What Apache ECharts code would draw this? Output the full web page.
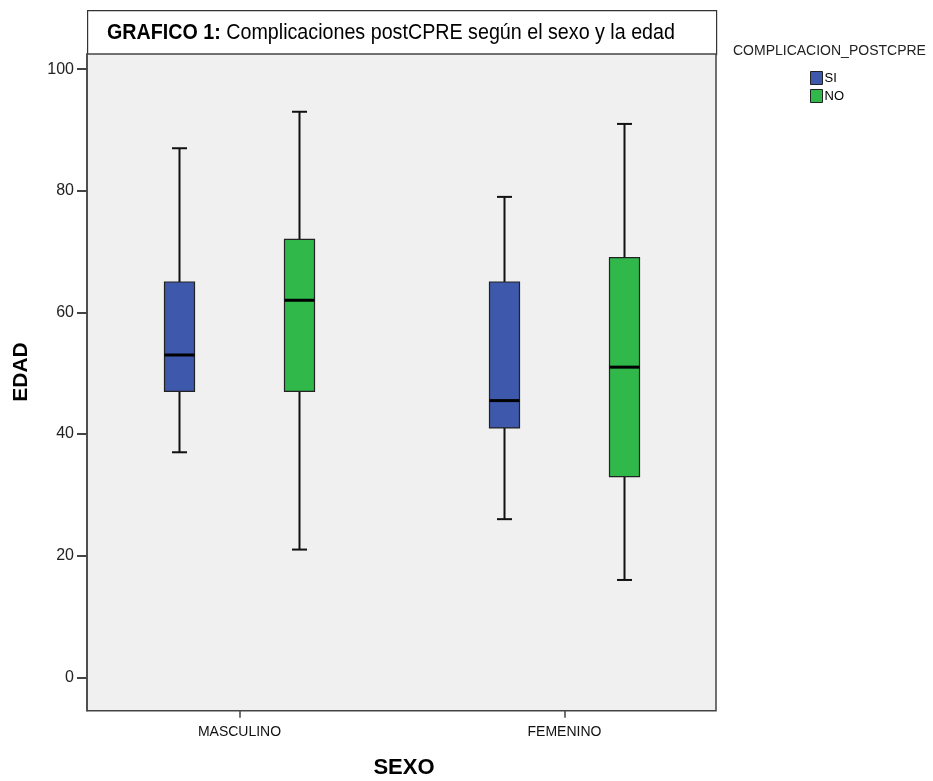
<!DOCTYPE html>
<html>
<head>
<meta charset="utf-8">
<title>Complicaciones postCPRE según el sexo y la edad</title>
<script src="https://cdn.jsdelivr.net/npm/echarts@6/dist/echarts.min.js"></script>
<style>
  html, body { margin: 0; padding: 0; background: #ffffff; }
  #chart { width: 933px; height: 781px; }
</style>
</head>
<body>
<div id="chart"></div>
<script>
// Categorías del eje X
const sexo = ['MASCULINO', 'FEMENINO'];

// Resumen de cinco números de EDAD: [mínimo, Q1, mediana, Q3, máximo] por sexo
const siMin = [37, 26];
const siQ1  = [47, 41];
const siMed = [53, 45.5];
const siQ3  = [65, 65];
const siMax = [87, 79];

const noMin = [21, 16];
const noQ1  = [47, 33];
const noMed = [62, 51];
const noQ3  = [72, 69];
const noMax = [93, 91];

const yTicks = [0, 20, 40, 60, 80, 100];

const SANS = '"Liberation Sans", Arial, sans-serif';

const BOX_W = 30;     // ancho de cada caja (px)
const CAP_W = 15;     // ancho de los topes de los bigotes (px)
const SHIFT = 60;     // desplazamiento de cada grupo respecto al centro de la categoría (px)

function buildRows(mn, q1, md, q3, mx) {
  return sexo.map((_, i) => [i, mn[i], q1[i], md[i], q3[i], mx[i]]);
}

function boxRenderer(offset) {
  return function (params, api) {
    const c = api.value(0);
    const pMin = api.coord([c, api.value(1)]);
    const pQ1  = api.coord([c, api.value(2)]);
    const pMed = api.coord([c, api.value(3)]);
    const pQ3  = api.coord([c, api.value(4)]);
    const pMax = api.coord([c, api.value(5)]);
    const x = pMin[0] + offset;
    const fill = api.visual('color');
    const whisker = { stroke: '#111111', lineWidth: 2 };
    return {
      type: 'group',
      children: [
        { type: 'line', shape: { x1: x, y1: pMax[1], x2: x, y2: pQ3[1] }, style: whisker },
        { type: 'line', shape: { x1: x, y1: pQ1[1], x2: x, y2: pMin[1] }, style: whisker },
        { type: 'line', shape: { x1: x - CAP_W / 2, y1: pMax[1], x2: x + CAP_W / 2, y2: pMax[1] }, style: whisker },
        { type: 'line', shape: { x1: x - CAP_W / 2, y1: pMin[1], x2: x + CAP_W / 2, y2: pMin[1] }, style: whisker },
        { type: 'rect',
          shape: { x: x - BOX_W / 2, y: pQ3[1], width: BOX_W, height: pQ1[1] - pQ3[1] },
          style: { fill: fill, stroke: '#222222', lineWidth: 1.2 } },
        { type: 'line', shape: { x1: x - BOX_W / 2, y1: pMed[1], x2: x + BOX_W / 2, y2: pMed[1] },
          style: { stroke: '#000000', lineWidth: 3 } }
      ]
    };
  };
}

const chart = echarts.init(document.getElementById('chart'), null, { renderer: 'canvas' });

const PLOT_TOP = 54;
const PLOT_H = 656.7;

chart.setOption({
  animation: false,
  backgroundColor: '#ffffff',
  graphic: [
    {
      type: 'rect', left: 87, top: 10, z: -1,
      shape: { width: 629, height: 44 },
      style: { fill: '#ffffff', stroke: '#333333', lineWidth: 1.2 }
    },
    {
      // título, condensado horizontalmente
      type: 'text', x: 107, y: 33, scaleX: 0.895,
      style: {
        text: '{b|GRAFICO 1:} Complicaciones postCPRE según el sexo y la edad',
        font: '22px ' + SANS, fill: '#000', verticalAlign: 'middle',
        rich: { b: { fontFamily: SANS, fontWeight: 'bold', fontSize: 22, fill: '#000' } }
      }
    },
    {
      type: 'text', x: 733, y: 51,
      style: { text: 'COMPLICACION_POSTCPRE', font: '14px ' + SANS, fill: '#222', verticalAlign: 'middle' }
    },
    {
      type: 'text', x: 21, y: 372, rotation: Math.PI / 2,
      style: { text: 'EDAD', font: 'bold 21px ' + SANS, fill: '#000', align: 'center', verticalAlign: 'middle' }
    },
    {
      type: 'text', x: 404, y: 768,
      style: { text: 'SEXO', font: 'bold 22px ' + SANS, fill: '#000', align: 'center', verticalAlign: 'middle' }
    }
  ],
  legend: {
    orient: 'vertical',
    left: 810,
    top: 71,
    padding: 0,
    itemWidth: 12,
    itemHeight: 13,
    itemGap: 4,
    icon: 'rect',
    data: ['SI', 'NO'],
    itemStyle: { borderColor: '#222', borderWidth: 1 },
    textStyle: { fontFamily: SANS, fontSize: 13, color: '#000', padding: [0, 0, 0, -3] }
  },
  grid: [
    {
      left: 87, top: PLOT_TOP, width: 629, height: PLOT_H,
      show: true, backgroundColor: '#f0f0f0', borderColor: '#444444', borderWidth: 1.5,
      containLabel: false
    },
    {
      left: 77, top: PLOT_TOP, width: 650, height: PLOT_H,
      containLabel: false
    }
  ],
  xAxis: [
    { type: 'value', gridIndex: 0, show: false, min: 0, max: 1 },
    {
      type: 'category', gridIndex: 1, data: sexo, position: 'bottom',
      axisLine: { show: false, onZero: false },
      axisTick: { show: true, alignWithLabel: true, length: 7, lineStyle: { color: '#444', width: 1.5 } },
      axisLabel: { fontFamily: SANS, fontSize: 14, color: '#111', margin: 14 },
      splitLine: { show: false }
    }
  ],
  yAxis: [
    {
      type: 'value', gridIndex: 0, min: -5.5, max: 102.5,
      axisLine: { show: true, lineStyle: { color: '#444', width: 1.5 } },
      axisTick: { show: true, customValues: yTicks, length: 10, lineStyle: { color: '#444', width: 2 } },
      axisLabel: { customValues: yTicks, fontFamily: SANS, fontSize: 16, color: '#222', margin: 13 },
      splitLine: { show: false }
    },
    { type: 'value', gridIndex: 1, min: -5.5, max: 102.5, show: false, splitLine: { show: false } }
  ],
  series: [
    {
      name: 'SI', type: 'custom', xAxisIndex: 1, yAxisIndex: 1,
      itemStyle: { color: '#3e58ac' },
      encode: { x: 0, y: [1, 2, 3, 4, 5] },
      renderItem: boxRenderer(-SHIFT),
      data: buildRows(siMin, siQ1, siMed, siQ3, siMax)
    },
    {
      name: 'NO', type: 'custom', xAxisIndex: 1, yAxisIndex: 1,
      itemStyle: { color: '#31b84a' },
      encode: { x: 0, y: [1, 2, 3, 4, 5] },
      renderItem: boxRenderer(SHIFT),
      data: buildRows(noMin, noQ1, noMed, noQ3, noMax)
    }
  ]
});
</script>
</body>
</html>
